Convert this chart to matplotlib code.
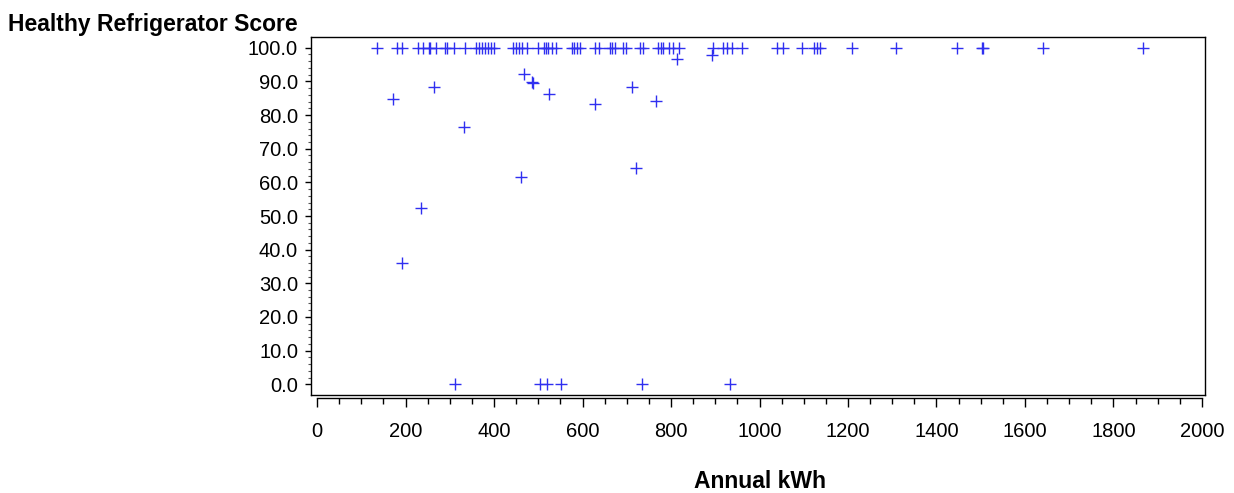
import numpy as np
import matplotlib
matplotlib.use("Agg")
import matplotlib.pyplot as plt
import matplotlib.ticker as ticker

plt.rcParams['font.family'] = ['Liberation Sans', 'DejaVu Sans']

# refrigerators scoring 100
top_kwh = [135, 181, 192, 229, 239, 252, 255, 269, 289, 293, 310, 335,
           359, 367, 372, 380, 387, 393, 400, 444, 450, 457, 463, 474,
           500, 513, 518, 523, 530, 540, 576, 581, 587, 594, 628, 638,
           661, 666, 673, 691, 698, 730, 736, 771, 777, 783, 796, 805,
           819, 894, 917, 927, 937, 960, 1040, 1052, 1095, 1124, 1129,
           1137, 1210, 1308, 1446, 1503, 1506, 1641, 1867]
top_score = [100.0] * len(top_kwh)

# everything else
other_kwh = [172, 192, 235, 264, 312, 333, 461, 468, 485, 489, 505, 519,
             525, 551, 629, 711, 721, 735, 765, 813, 892, 934]
other_score = [84.7, 36.1, 52.5, 88.4, 0.0, 76.5, 61.6, 92.1, 89.9, 89.6,
               0.0, 0.0, 86.4, 0.0, 83.4, 88.4, 64.4, 0.0, 84.1, 96.8,
               97.8, 0.0]

annual_kwh = top_kwh + other_kwh
score = top_score + other_score

fig = plt.figure(figsize=(12.34, 4.93), dpi=100)
ax = fig.add_axes([311 / 1234, 1 - 395 / 493, 894 / 1234, 358 / 493])

ax.plot(annual_kwh, score, linestyle='none', marker='+', markersize=8.5,
        markeredgewidth=1.0, color='#2f2ff0')

ax.set_xlim(-13.6, 2006.8)
ax.set_ylim(-3.2, 103.2)

ax.xaxis.set_major_locator(ticker.MultipleLocator(200))
ax.xaxis.set_minor_locator(ticker.FixedLocator(np.arange(0, 2001, 50)))
ax.yaxis.set_major_locator(ticker.MultipleLocator(10))
ax.yaxis.set_minor_locator(ticker.FixedLocator(np.arange(0, 101, 2)))
ax.yaxis.set_major_formatter(ticker.FormatStrFormatter('%.1f'))

ax.tick_params(axis='x', which='major', length=6.5, width=1, pad=11,
               labelsize=14.5)
ax.tick_params(axis='x', which='minor', length=4, width=1)
ax.tick_params(axis='y', which='major', length=4.3, width=1, pad=5,
               labelsize=14.5)
ax.tick_params(axis='y', which='minor', length=2.5, width=0.8,
               color='#555555')

for s in ['left', 'right', 'top']:
    ax.spines[s].set_linewidth(1)
ax.spines['bottom'].set_position(('outward', 2))
ax.spines['bottom'].set_bounds(0, 2000)
ax.spines['bottom'].set_linewidth(1)
# frame line above the detached x axis
ax.plot([0, 1], [0, 0], transform=ax.transAxes, color='black', lw=1,
        clip_on=False)

fig.text(8 / 1234, 1 - 31.5 / 493, "Healthy Refrigerator Score",
         ha='left', va='baseline', fontsize=16.5, fontweight='bold')
fig.text(760 / 1234, 1 - 488 / 493, "Annual kWh",
         ha='center', va='baseline', fontsize=16.5, fontweight='bold')

fig.savefig("out.png", dpi=100)
